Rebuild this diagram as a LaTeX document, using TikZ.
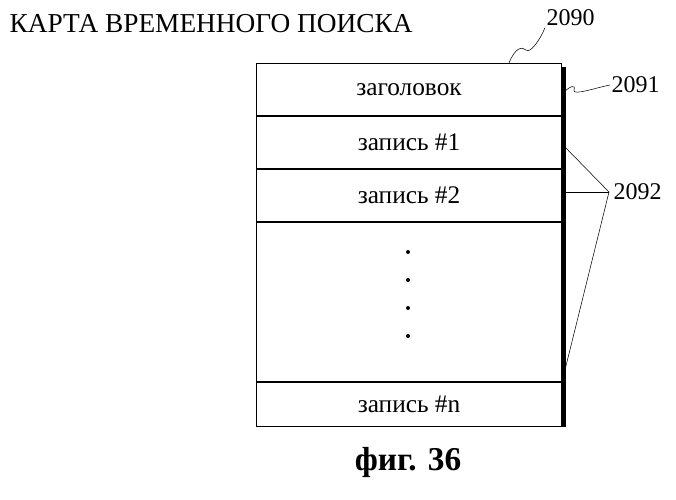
\documentclass[tikz,border=0pt]{standalone}
\usepackage{fontspec}
\setmainfont{Liberation Serif}
\usetikzlibrary{positioning}
\tikzstyle{row} = [rectangle, minimum width=228.75pt, minimum height=39pt, draw=black, thick, text centered, inner sep=0pt, font=\fontsize{19}{21}\selectfont]
\tikzstyle{leader} = [thin]
\tikzstyle{ref} = [font=\fontsize{18}{20}\selectfont, inner sep=1pt]

\begin{document}
\begin{tikzpicture}[x=0.75pt, y=-0.75pt]
  \useasboundingbox (0,0) rectangle (676,500);
  \node (title) [anchor=west, font=\fontsize{20.5}{22}\selectfont] at (5,24) {КАРТА ВРЕМЕННОГО ПОИСКА};
  \node (header) [row, anchor=north west] at (256,63) {заголовок};
  \node (entry1) [row, below=0pt of header] {запись \#1};
  \node (entry2) [row, below=0pt of entry1] {запись \#2};
  \node (gap) [row, below=0pt of entry2, minimum height=119.25pt] {};
  \node (entryn) [row, below=0pt of gap, minimum height=33pt] {запись \#n};
  \foreach \y in {252,280,308,336} \fill (408,\y) circle (2);
  % shadow on the right edge
  \draw [line width=2.5pt] ([xshift=1.5pt,yshift=-3pt]header.north east) -- ([xshift=1.5pt]entryn.south east);

  \node (r2090) [ref, anchor=west] at (545,18) {2090};
  \node (r2091) [ref, anchor=west] at (610,85) {2091};
  \node (r2092) [ref, anchor=west] at (612,192) {2092};
  \coordinate (p2092) at (609,192);
  \draw [leader] (509,63) .. controls (515,48) and (522,46) .. (526,50) .. controls (530,54) and (540,40) .. (r2090.south west);
  \draw [leader] (563,93) .. controls (570,86) and (576,84) .. (574,90) .. controls (572,96) and (595,88) .. (r2091.west);
  \draw [leader] (563,145) -- (p2092);
  \draw [leader] (563,192) -- (p2092);
  \draw [leader] (563,378) -- (p2092);

  \node (caption) [font=\bfseries\fontsize{25}{27}\selectfont] at (408,462) {фиг. 36};
\end{tikzpicture}
\end{document}
